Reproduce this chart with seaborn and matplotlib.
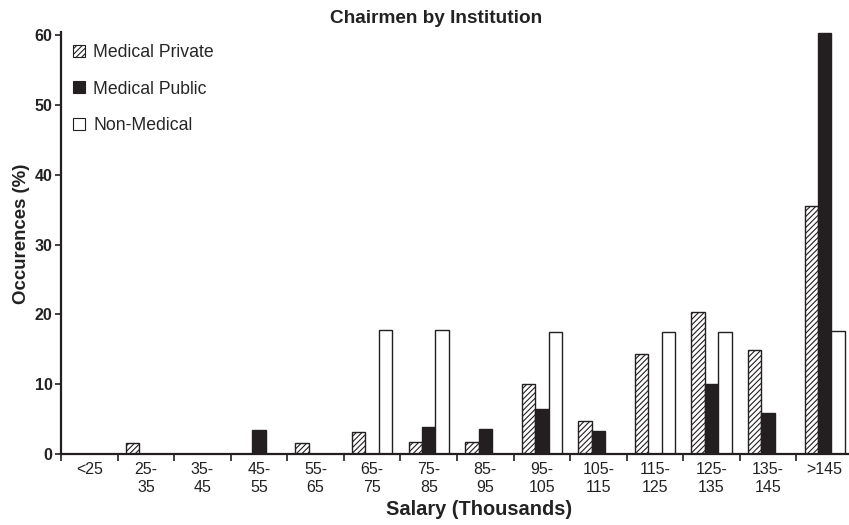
import numpy as np
import pandas as pd
import seaborn as sns
import matplotlib.pyplot as plt
from matplotlib.patches import Patch

# salary brackets (thousands) and share of chairmen per bracket (%)
brackets = ["<25", "25-\n35", "35-\n45", "45-\n55", "55-\n65", "65-\n75", "75-\n85",
            "85-\n95", "95-\n105", "105-\n115", "115-\n125", "125-\n135", "135-\n145", ">145"]
medical_private = [0, 1.6, 0, 0, 1.6, 3.2, 1.7, 1.7, 10.1, 4.7, 14.4, 20.4, 14.9, 35.5]
medical_public = [0, 0, 0, 3.5, 0, 0, 3.8, 3.6, 6.5, 3.3, 0, 10.1, 5.9, 60.4]
non_medical = [0, 0, 0, 0, 0, 17.8, 17.8, 0, 17.5, 0, 17.5, 17.5, 0, 17.6]
groups = ["Medical Private", "Medical Public", "Non-Medical"]

df = pd.DataFrame({
    "bracket": brackets * 3,
    "institution": np.repeat(groups, len(brackets)),
    "pct": medical_private + medical_public + non_medical,
})

sns.set_style("ticks")
plt.rcParams["font.family"] = ["Liberation Sans", "DejaVu Sans"]
plt.rcParams["hatch.color"] = "#333333"
plt.rcParams["hatch.linewidth"] = 0.8

fig = plt.figure(figsize=(8.49, 5.25), dpi=100)
ax = fig.add_axes([61 / 849, 1 - 454 / 525, 1 - 61 / 849, (454 - 32) / 525])

dark = "#231f20"
text_col = "#222222"
sns.barplot(data=df, x="bracket", y="pct", hue="institution", hue_order=groups,
            palette=["white", dark, "white"], width=0.71, edgecolor=dark,
            linewidth=1.0, saturation=1, legend=False, ax=ax)

# hatching for the private bars
for bar in ax.containers[0]:
    bar.set_hatch("//////")

ax.set_xlim(-0.5, 13.43)
ax.set_ylim(0, 60.5)

# ticks at bracket boundaries, labels at centres
n = len(brackets)
ax.set_xticks(np.arange(n) - 0.5)
ax.set_xticklabels([])
ax.set_xticks(np.arange(n), minor=True)
ax.set_xticklabels(brackets, minor=True, fontsize=11.5, color=text_col)
ax.tick_params(axis="x", which="major", length=5, width=1.2, color=dark)
ax.tick_params(axis="x", which="minor", length=0, pad=6)
ax.set_yticks(range(0, 61, 10))
ax.tick_params(axis="y", length=4, width=1.2, color=dark, pad=2)
for t in ax.get_yticklabels():
    t.set_fontweight("bold")
    t.set_fontsize(11.5)
    t.set_color(text_col)

for s in ["left", "bottom"]:
    ax.spines[s].set_linewidth(1.6)
    ax.spines[s].set_color(dark)
sns.despine(ax=ax)

ax.set_xlabel("Salary (Thousands)", fontsize=14.4, fontweight="bold", color=text_col)
ax.set_ylabel("Occurences (%)", fontsize=13.4, fontweight="bold", color=text_col)
ax.xaxis.set_label_coords(0.53, -0.108)
ax.yaxis.set_label_coords(-0.039, 0.521)
ax.set_title("Chairmen by Institution", fontsize=13.7, fontweight="bold",
             color=text_col, x=(436 - 61) / 788, y=1.0, pad=6.5)

handles = [Patch(facecolor="white", edgecolor=dark, hatch="//////", linewidth=0.8),
           Patch(facecolor=dark, edgecolor=dark, linewidth=0.8),
           Patch(facecolor="white", edgecolor=dark, linewidth=0.8)]
ax.legend(handles, groups, loc="upper left", frameon=False, fontsize=12.7,
          handlelength=0.68, handleheight=0.68, handletextpad=0.45,
          labelspacing=1.09, bbox_to_anchor=(0.0, 1.0), borderaxespad=0.3)

fig.savefig("out.png", dpi=100)
